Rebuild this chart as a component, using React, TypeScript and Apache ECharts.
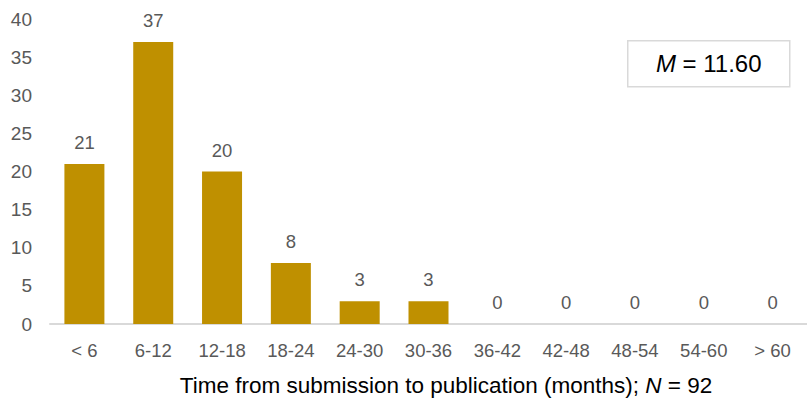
import React, { useEffect, useRef } from "react";
import * as echarts from "echarts";

const categories = ["< 6", "6-12", "12-18", "18-24", "24-30", "30-36", "36-42", "42-48", "48-54", "54-60", "> 60"];
const counts = [21, 37, 20, 8, 3, 3, 0, 0, 0, 0, 0];
const yTicks = [0, 5, 10, 15, 20, 25, 30, 35, 40];
const meanLabel = "11.60";
const nLabel = "92";

const FONT = "Liberation Sans, Arial, sans-serif";

export default function App() {
  const ref = useRef<HTMLDivElement>(null);
  useEffect(() => {
    if (!ref.current) return;
    const chart = echarts.init(ref.current, null, { renderer: "svg" });
    chart.setOption({
      animation: false,
      textStyle: { fontFamily: FONT },
      grid: { left: 50, right: 0, top: 19, bottom: 76, containLabel: false },
      xAxis: {
        type: "category",
        data: categories,
        axisLine: { show: true, lineStyle: { color: "#D9D9D9", width: 2 } },
        axisTick: { show: false },
        axisLabel: { color: "#595959", fontSize: 18.5, margin: 17, fontFamily: FONT, interval: 0 },
      },
      yAxis: {
        type: "value",
        min: yTicks[0],
        max: yTicks[yTicks.length - 1],
        interval: 5,
        axisLine: { show: false },
        axisTick: { show: false },
        splitLine: { show: false },
        axisLabel: { color: "#595959", fontSize: 19, margin: 18, fontFamily: FONT },
      },
      series: [
        {
          type: "bar",
          data: counts,
          barWidth: 40,
          itemStyle: { color: "#BF9000" },
          label: {
            show: true,
            position: "top",
            distance: 12,
            color: "#595959",
            fontSize: 18.5,
            fontFamily: FONT,
          },
        },
      ],
      graphic: [
        {
          type: "text",
          x: 446,
          y: 385,
          style: {
            text: "{a|Time from submission to publication (months); }{i|N}{a| = " + nLabel + "}",
            align: "center",
            verticalAlign: "middle",
            rich: {
              a: { fontSize: 22.5, fill: "#000", fontFamily: FONT },
              i: { fontSize: 22.5, fill: "#000", fontStyle: "italic", fontFamily: FONT },
            },
          },
        },
        {
          type: "group",
          left: 627,
          top: 40,
          children: [
            {
              type: "rect",
              shape: { x: 0, y: 0, width: 162, height: 46 },
              style: { fill: "#fff", stroke: "#D9D9D9", lineWidth: 1.5 },
            },
            {
              type: "text",
              x: 81,
              y: 23,
              style: {
                text: "{i|M}{a| = " + meanLabel + "}",
                align: "center",
                verticalAlign: "middle",
                rich: {
                  i: { fontSize: 24, fontStyle: "italic", fill: "#000", fontFamily: FONT },
                  a: { fontSize: 24, fill: "#000", fontFamily: FONT },
                },
              },
            },
          ],
        },
      ],
    });
    return () => chart.dispose();
  }, []);
  return <div ref={ref} style={{ width: 807, height: 400, position: "absolute", left: 0, top: 0 }} />;
}
